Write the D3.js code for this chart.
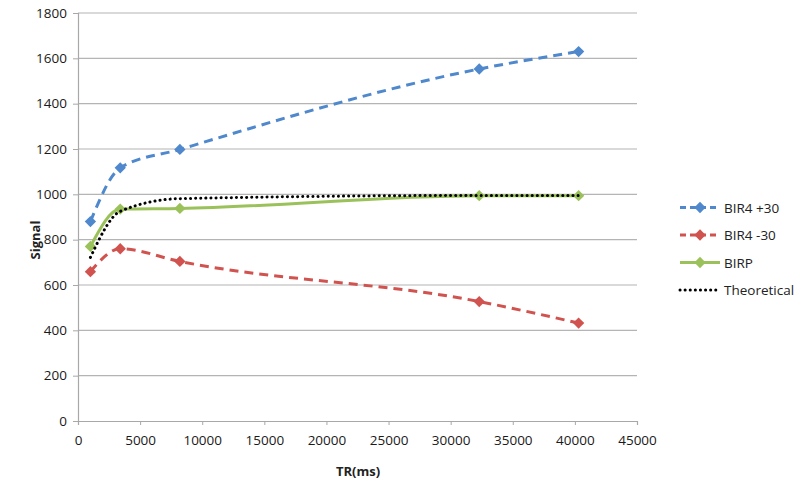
<!DOCTYPE html>
<html>
<head>
<meta charset="utf-8">
<script src="https://cdn.jsdelivr.net/npm/d3@7"></script>
<style>
  body { margin: 0; background: #fff; }
  text { font-family: "Open Sans", "Liberation Sans", sans-serif; fill: #222; }
</style>
</head>
<body>
<script>
// TR values (ms) and signal for each series
var trValues = [1000, 3400, 8200, 32300, 40300];
var bir4Plus = [880, 1117, 1198, 1553, 1630];
var bir4Minus = [659, 760, 704, 527, 432];
var birp = [770, 935, 938, 994, 994];
var theoretical = [722, 925, 981, 995, 995];

var seriesNames = ["BIR4 +30", "BIR4 -30", "BIRP", "Theoretical"];
var xTicks = [0, 5000, 10000, 15000, 20000, 25000, 30000, 35000, 40000, 45000];
var yTicks = [0, 200, 400, 600, 800, 1000, 1200, 1400, 1600, 1800];

window.onload = function(){
	var w = 800, h = 490;
	var svg = d3.select("body").append("svg")
		.attr("width", w)
		.attr("height", h);

	var x = d3.scaleLinear().domain([0, 45000]).range([78, 637]);
	var y = d3.scaleLinear().domain([0, 1800]).range([421, 13]);

	// horizontal gridlines
	svg.selectAll(".grid")
		.data(yTicks.slice(1))
		.enter().append("line")
		.attr("x1", x(0)).attr("x2", x(45000))
		.attr("y1", function(d){ return y(d); })
		.attr("y2", function(d){ return y(d); })
		.style("stroke", "#b4b4b4")
		.style("stroke-width", 1.2);

	// axes
	var yAxis = svg.append("g")
		.attr("transform", "translate(" + x(0) + ",0)")
		.call(d3.axisLeft(y).tickValues(yTicks).tickSize(5).tickPadding(6).tickFormat(d3.format("d")));
	var xAxis = svg.append("g")
		.attr("transform", "translate(0," + y(0) + ")")
		.call(d3.axisBottom(x).tickValues(xTicks).tickSize(4).tickPadding(10).tickFormat(d3.format("d")));
	[xAxis, yAxis].forEach(function(g){
		g.select(".domain").style("stroke", "#a8a8a8").style("stroke-width", 1.2);
		g.selectAll(".tick line").style("stroke", "#a8a8a8");
		g.selectAll("text").style("font-size", "13.5px").style("fill", "#1a1a1a");
	});

	svg.append("text")
		.attr("transform", "translate(40,240) rotate(-90)")
		.attr("text-anchor", "middle")
		.style("font-size", "13px")
		.style("font-weight", "bold")
		.text("Signal");
	svg.append("text")
		.attr("x", 358).attr("y", 476)
		.attr("text-anchor", "middle")
		.style("font-size", "13px")
		.style("font-weight", "bold")
		.text("TR(ms)");

	var series = [
		{ name: seriesNames[0], values: bir4Plus, color: "#4f88cc", dash: "9,6", marker: true },
		{ name: seriesNames[1], values: bir4Minus, color: "#d1534f", dash: "9,6", marker: true },
		{ name: seriesNames[2], values: birp, color: "#9bc25a", dash: null, marker: true },
		{ name: seriesNames[3], values: theoretical, color: "#000", dash: "0.1,5", marker: false }
	];

	var line = d3.line()
		.x(function(d){ return x(d[0]); })
		.y(function(d){ return y(d[1]); })
		.curve(d3.curveMonotoneX);

	// diamond marker: a square turned 45 degrees
	var diamond = d3.symbol().type(d3.symbolSquare).size(64);

	series.forEach(function(s){
		var pts = trValues.map(function(t, i){ return [t, s.values[i]]; });
		var path = svg.append("path")
			.datum(pts)
			.attr("d", line)
			.style("fill", "none")
			.style("stroke", s.color)
			.style("stroke-width", 3)
			.style("stroke-linecap", s.marker ? "butt" : "round");
		if (s.dash) path.style("stroke-dasharray", s.dash);
		if (s.marker) {
			svg.selectAll(null)
				.data(pts)
				.enter().append("path")
				.attr("d", diamond)
				.attr("transform", function(d){ return "translate(" + x(d[0]) + "," + y(d[1]) + ") rotate(45)"; })
				.style("fill", s.color);
		}
	});

	// legend
	var legend = svg.selectAll(".legend")
		.data(series)
		.enter().append("g")
		.attr("transform", function(d, i){ return "translate(680," + (207.5 + i * 27.5) + ")"; });
	legend.append("line")
		.attr("x1", 0).attr("x2", 40)
		.style("stroke", function(d){ return d.color; })
		.style("stroke-width", 3)
		.style("stroke-linecap", function(d){ return d.marker ? "butt" : "round"; })
		.style("stroke-dasharray", function(d){ return d.marker ? (d.dash ? "6,4" : null) : "0.1,5"; });
	legend.filter(function(d){ return d.marker; })
		.append("path")
		.attr("d", diamond)
		.attr("transform", "translate(20,0) rotate(45)")
		.style("fill", function(d){ return d.color; });
	legend.append("text")
		.attr("x", 44).attr("y", 5)
		.style("font-size", "13.5px")
		.text(function(d){ return d.name; });
};
</script>
</body>
</html>
